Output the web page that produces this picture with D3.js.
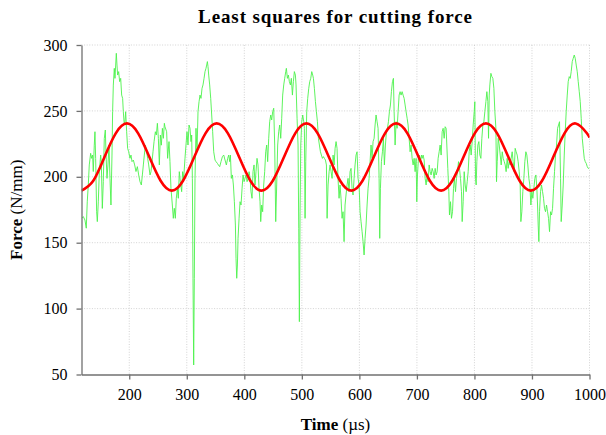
<!DOCTYPE html>
<html><head><meta charset="utf-8">
<script src="https://cdn.jsdelivr.net/npm/d3@7/dist/d3.min.js"></script>
<style>body{margin:0;background:#fff}</style>
</head><body>
<svg id="c" width="606" height="435"></svg>
<script>
// ---- data ----
const chartTitle = "Least squares for cutting force";
const xTicks = [200, 300, 400, 500, 600, 700, 800, 900, 1000];
const yTicks = [50, 100, 150, 200, 250, 300];
const xDomain = [117, 1000];
const yDomain = [50, 300];

// measured cutting force [time µs, force N/mm]
const measuredForce = [
[117.2,168.5],[120.1,169.8],[123,167.2],[125.3,161],[127,181],[128.8,193.8],[130.5,209],[132.9,217.8],[134.6,214],[136.3,216.5],[137.5,204],[139.2,224],[140.4,234.2],[141.6,214],[143.3,173.5],[144.5,166],[146.2,181],[148,204],[150.3,216.5],[151.4,211.5],[153.2,176],[154.9,196.3],[156.6,229],[158.4,235.5],[159.5,219],[161.3,198.8],[163,209],[164.8,224],[166.5,198.8],[168.2,178.6],[170,216.5],[171.1,249.4],[172.3,269.6],[174,282.3],[175.2,274.7],[176.4,284.8],[177.5,293.7],[178.7,284.8],[179.8,277.2],[181.6,279.8],[183.3,272.2],[185.1,274.7],[186.8,262],[188.5,259.5],[189.7,249.4],[190.9,241.8],[192,239.3],[193.8,249.4],[195.5,234.2],[197.2,221.6],[199,219],[201.3,214],[203,216.5],[204.8,211.5],[207.1,212.7],[209.4,209],[211.7,204],[214.1,207.7],[216.4,201.4],[218.7,196.3],[221,193.8],[222.8,201.4],[224.5,209],[226.2,216.5],[228,224],[230.3,219],[232,214],[233.8,209],[236.1,201.4],[237.8,203.9],[239.6,211.5],[241.3,219],[243.1,226.7],[245.4,234.2],[247.1,231.7],[248.9,240.6],[250.6,229.2],[252.3,209],[254.1,231.7],[255.8,224],[257.6,236.8],[259.3,229.2],[261,240.6],
[262.1,238],[265,234.2],[266.7,214],[269.1,226.7],[270.8,211.5],[272.5,191.3],[274.9,178.6],[276.6,168.5],[278.3,176.1],[280.1,168.5],[281.8,183.7],[283.6,191.3],[285.3,183.7],[287,203.9],[288.8,196.3],[291.1,188.7],[292.8,203.9],[294.6,198.8],[296.9,214],[298.6,224.1],[300.4,234.2],[302.1,224.1],[303.9,239.3],[305.6,236.8],[307.3,226.7],[308.5,231.7],[309.7,198.8],[310.8,123],[312,57.2],[313.1,123],[314.3,198.8],[316,236.8],[317.8,219],[319.5,249.4],[321.3,257],[323,262],[324.7,259.5],[326.5,267.1],[328.2,269.7],[330,274.7],[331.7,279.8],[333.4,282.3],[334.6,284.8],[335.8,287.4],[336.9,283.6],[338.1,277.2],[339.8,269.7],[341.6,259.5],[343.3,246.9],[345,234.2],[346.8,219],[349.1,212.7],[350.8,211.5],[353.2,210.2],[354.9,209],[357.2,207.7],[359.5,211.5],[361.9,215.3],[364.2,216.5],[366.5,212.7],[368.8,209],[371.1,214],[372.9,216.5],[374.6,211.5],[375.8,216.5],[377.5,198.8],[379.3,201.4],[381,193.8],[382.7,181.1],[384.5,163.4],[385.6,138.1],[386.8,123],[388,133.1],[389.1,153.3],[390.9,168.5],[392.6,181.1],[394.3,178.6],[396.1,191.3],[397.8,201.4],[399.6,196.3],[401.3,198.8],[403,201.4],[404.8,196.3],[406.5,198.8],[408.3,203.9],[410,198.8],
[411.6,188.7],[413.4,183.7],[415.1,203.9],[416.9,209],[418.6,193.8],[420.3,203.9],[422.1,214],[423.8,209],[425.6,191.3],[427.3,181.1],[428.5,166],[430.2,178.6],[431.9,173.5],[433.7,193.8],[435.4,203.9],[437.2,219],[438.9,224.1],[440.6,211.5],[442.4,229.2],[444.1,241.8],[445.9,246.9],[447.6,243.1],[449.3,249.4],[451.1,252],[452.8,224.1],[454.6,166],[456.3,193.8],[458,224.1],[459.8,234.2],[461.5,239.3],[463.3,229.2],[465,244.4],[466.7,262],[468.5,269.7],[470.2,274.7],[472,279.8],[473.1,282.3],[474.9,274.7],[476.6,277.2],[478.3,272.2],[480.1,269.7],[481.8,274.7],[483.6,262],[485.3,272.2],[487,279.8],[488.8,277.2],[489.9,269.7],[491.7,244.4],[493.4,224.1],[494.6,160.9],[495.7,90.1],[496.9,173.5],[498.1,224.1],[499.8,241.8],[501.5,246.9],[503.3,241.8],[504.4,236.8],[505.6,168.5],[506.8,211.5],[508.5,249.4],[510.2,259.5],[512,267.1],[513.7,272.2],[515.5,274.7],[517.2,279.8],[518.9,277.2],[520.1,274.7],[521.8,267.1],[523.6,257],[525.3,249.4],[527.1,241.8],[528.8,229.2],[530.5,224.1],[532.3,219],[534,216.5],[535.8,214],[537.5,215.3],[539.2,214],[541,212.7],[542.7,209],[543.9,168.5],[545.6,193.8],[547.4,203.9],[549.1,209],[550.8,203.9],[552.6,198.8],[554.3,216.5],[556.1,209],[557.8,221.6],[559.5,226.7],
[561.2,221.6],[562.9,198.8],[564.7,183.7],[566.4,193.8],[568.1,183.7],[569.9,168.5],[571.6,173.5],[573.4,150.8],[575.1,178.6],[576.8,186.2],[578.6,193.8],[580.3,198.8],[582.1,188.7],[583.8,203.9],[585.5,206.4],[587.3,191.3],[589,186.2],[590.8,198.8],[592.5,209],[594.2,216.5],[596,219],[597.7,198.8],[599.5,193.8],[601.2,173.5],[602.9,166],[604.7,158.4],[606.4,150.8],[608.2,140.7],[609.9,153.3],[611.6,163.4],[613.4,178.6],[615.1,191.3],[616.9,198.8],[618.6,211.5],[620.3,224.1],[622.1,214],[623.8,226.7],[625.6,229.2],[627.3,239.3],[629,246.9],[630.8,241.8],[632.5,236.8],[634.3,198.8],[635.4,153.3],[636.6,191.3],[638.3,211.5],[640.1,219],[641.8,229.2],[643.5,209],[645.3,224.1],[647,234.2],[648.8,236.8],[650.5,241.8],[652.2,249.4],[654,254.5],[655.7,264.6],[657.5,272.2],[659.2,274.7],[660.4,249.4],[662.1,224.1],[663.8,241.8],[665.6,236.8],[667.3,249.4],[669.1,262],[670.8,264.6],[672.5,262],[674.3,264.6],[676,262],[677.8,259.5],[679.5,254.5],[681.2,249.4],[683,244.4],[684.7,239.3],[686.5,229.2],[688.2,219],[689.9,224.1],[691.7,214],[693.4,209],[695.2,214],[696.9,203.9],[698.6,214],[699.8,181.1],[701,201.4],[702.7,214],[704.4,216.5],[706.2,211.5],[707.9,216.5],
[709.1,214],[710.8,216.5],[712.6,212.7],[714.3,198.8],[716,193.8],[717.8,201.4],[719.5,196.3],[721.3,209],[723,203.9],[724.7,201.4],[726.5,206.4],[728.2,203.9],[730,198.8],[731.7,206.4],[733.4,201.4],[735.2,203.9],[736.9,214],[738.7,219],[740.4,224.1],[742.1,216.5],[743.9,234.2],[745.6,236.8],[747.4,229.2],[749.1,238],[750.8,236.8],[752,224.1],[753.7,206.4],[755.5,188.7],[756.6,171],[758.4,181.1],[760.1,168.5],[761.9,173.5],[763.6,191.3],[765.3,198.8],[767.1,188.7],[768.8,198.8],[770.6,203.9],[772.3,211.5],[774,206.4],[775.8,198.8],[777.5,188.7],[778.7,166],[780.4,181.1],[782.2,203.9],[783.9,193.8],[785.6,188.7],[787.4,196.3],[789.1,203.9],[790.9,219],[792.6,224.1],[794.3,216.5],[796.1,226.7],[797.8,239.3],[799.6,249.4],[800.7,257],[801.9,198.8],[803,193.8],[804.2,211.5],[806,224.1],[807.7,226.7],[809.4,216.5],[811.2,214],[812.9,229.2],[814.6,239.3],[816.4,241.8],[818.1,249.4],[819.9,257],[821.6,264.6],[823.3,257],[824.5,229.2],[825.7,262],[826.8,269.7],[828.6,278.5],[830.3,276],[832,274.7],[833.8,267.1],[835.5,249.4],[837.3,236.8],[838.4,196.3],[839.6,211.5],[841.3,229.2],[843.1,224.1],[844.8,216.5],[846.5,209],[848.3,219],[850,214],[851.8,211.5],[853.5,209],
[855.1,203.9],[856.9,214],[858.6,206.4],[860.4,211.5],[862.1,209],[863.8,214],[865.6,219],[867.3,211.5],[869.1,203.9],[870.8,221.6],[872.5,219],[874.3,216.5],[876,211.5],[877.8,203.9],[879.5,193.8],[880.7,166],[882.4,173.5],[884.1,188.7],[885.9,198.8],[887.6,211.5],[889.4,219],[891.1,216.5],[892.8,209],[894.6,198.8],[896.3,193.8],[898.1,178.6],[899.8,188.7],[901.5,183.7],[903.3,191.3],[905,198.8],[906.8,201.4],[908.5,191.3],[909.7,178.6],[910.8,163.4],[912,150.8],[913.1,173.5],[914.9,188.7],[916.6,193.8],[918.4,188.7],[920.1,183.7],[921.8,176.1],[923.6,173.5],[925.3,178.6],[927.1,173.5],[928.8,168.5],[930.5,158.4],[932.3,173.5],[934,171],[935.8,176.1],[937.5,191.3],[939.2,203.9],[941,216.5],[942.7,224.1],[944.5,236.8],[946.2,239.3],[947.9,241.8],[949.7,198.8],[950.8,166],[952.6,178.6],[954.3,193.8],[956.1,216.5],[957.8,234.2],[959.5,249.4],[961.3,262],[963,272.2],[964.8,276],[966.5,274.7],[968.2,279.8],[970,287.4],[971.7,289.9],[973.5,292.4],[975.2,289.9],[976.9,284.8],[978.7,279.8],[980.4,272.2],[982.2,264.6],[983.9,257],[985.6,244.4],[987.4,229.2],[989.1,221.6],[990.9,214],[992.6,211.5],[994.3,210.2],[996.1,207.7],[997.8,206.4],[999.5,206.4]
];

// least-squares sinusoid, values read at 1/8-period steps
const fitTime = [117,137.5,157,176.5,196,215.5,235,254.5,274,293.5,313,332.5,352,371.5,391,410.5,430,449.5,469,488.5,508,527.5,547,566.5,586,605.5,625,644.5,664,683.5,703,722.5,742,761.5,781,800.5,820,839.5,859,878.5,898,917.5,937,956.5,976,995.5,1000];
const fitForce = [189.5,197,215,233,240.5,233,215,197,189.5,197,215,233,240.5,233,215,197,189.5,197,215,233,240.5,233,215,197,189.5,197,215,233,240.5,233,215,197,189.5,197,215,233,240.5,233,215,197,189.5,197,215,233,240.5,233,229.5];

// ---- drawing ----
const svg = d3.select("#c");
const plot = {left: 81.5, right: 589.5, top: 45, bottom: 374.5};
const x = d3.scaleLinear().domain(xDomain).range([plot.left, plot.right]);
const y = d3.scaleLinear().domain(yDomain).range([plot.bottom, plot.top]);
const serif = "'Liberation Serif', 'Times New Roman', serif";

// grid
const grid = svg.append("g").attr("stroke", "#c8c8c8").attr("stroke-width", 0.8).attr("stroke-dasharray", "1,1.6");
grid.selectAll("line.gx").data(xTicks).join("line")
  .attr("x1", d => x(d)).attr("x2", d => x(d)).attr("y1", plot.top).attr("y2", plot.bottom);
grid.selectAll("line.gy").data(yTicks.filter(d => d !== yDomain[0])).join("line")
  .attr("x1", plot.left).attr("x2", plot.right).attr("y1", d => y(d)).attr("y2", d => y(d));

// clip
svg.append("clipPath").attr("id", "clip").append("rect")
  .attr("x", plot.left).attr("y", plot.top).attr("width", plot.right - plot.left).attr("height", plot.bottom - plot.top);

// measured line
svg.append("path").datum(measuredForce)
  .attr("clip-path", "url(#clip)")
  .attr("fill", "none").attr("stroke", "#4cf24c").attr("stroke-width", 0.9).attr("stroke-linejoin", "round")
  .attr("d", d3.line().x(d => x(d[0])).y(d => y(d[1])));

// fit line
const fitData = d3.zip(fitTime, fitForce);
svg.append("path").datum(fitData)
  .attr("clip-path", "url(#clip)")
  .attr("fill", "none").attr("stroke", "#ff0000").attr("stroke-width", 2.6)
  .attr("d", d3.line().curve(d3.curveNatural).x(d => x(d[0])).y(d => y(d[1])));

// axes
const xAxis = svg.append("g").attr("transform", `translate(0,${plot.bottom})`)
  .call(d3.axisBottom(x).tickValues(xTicks).tickFormat(d3.format("d")).tickSize(5).tickSizeOuter(0).tickPadding(9));
const yAxis = svg.append("g").attr("transform", `translate(${plot.left},0)`)
  .call(d3.axisLeft(y).tickValues(yTicks).tickFormat(d3.format("d")).tickSize(5).tickSizeOuter(0).tickPadding(9));
[xAxis, yAxis].forEach(a => {
  a.select(".domain").attr("stroke", "#707070").attr("stroke-width", 1.3);
  a.selectAll(".tick line").attr("stroke", "#707070").attr("stroke-width", 1.3);
  a.selectAll(".tick text").attr("fill", "#000").style("font-family", serif).style("font-size", "16px");
});

// title
svg.append("text").attr("x", (plot.left + plot.right) / 2).attr("y", 23)
  .attr("text-anchor", "middle").style("font-family", serif).style("font-size", "19px")
  .style("font-weight", "bold").style("letter-spacing", "0.9px").text(chartTitle);

// x label
const xl = svg.append("text").attr("x", (plot.left + plot.right) / 2).attr("y", 430)
  .attr("text-anchor", "middle").style("font-family", serif).style("font-size", "17px");
xl.append("tspan").style("font-weight", "bold").text("Time");
xl.append("tspan").text(" (µs)");

// y label
const yl = svg.append("text").attr("transform", `translate(22,${(plot.top + plot.bottom) / 2}) rotate(-90)`)
  .attr("text-anchor", "middle").style("font-family", serif).style("font-size", "17px");
yl.append("tspan").style("font-weight", "bold").text("Force");
yl.append("tspan").text(" (N/mm)");
</script>
</body></html>
